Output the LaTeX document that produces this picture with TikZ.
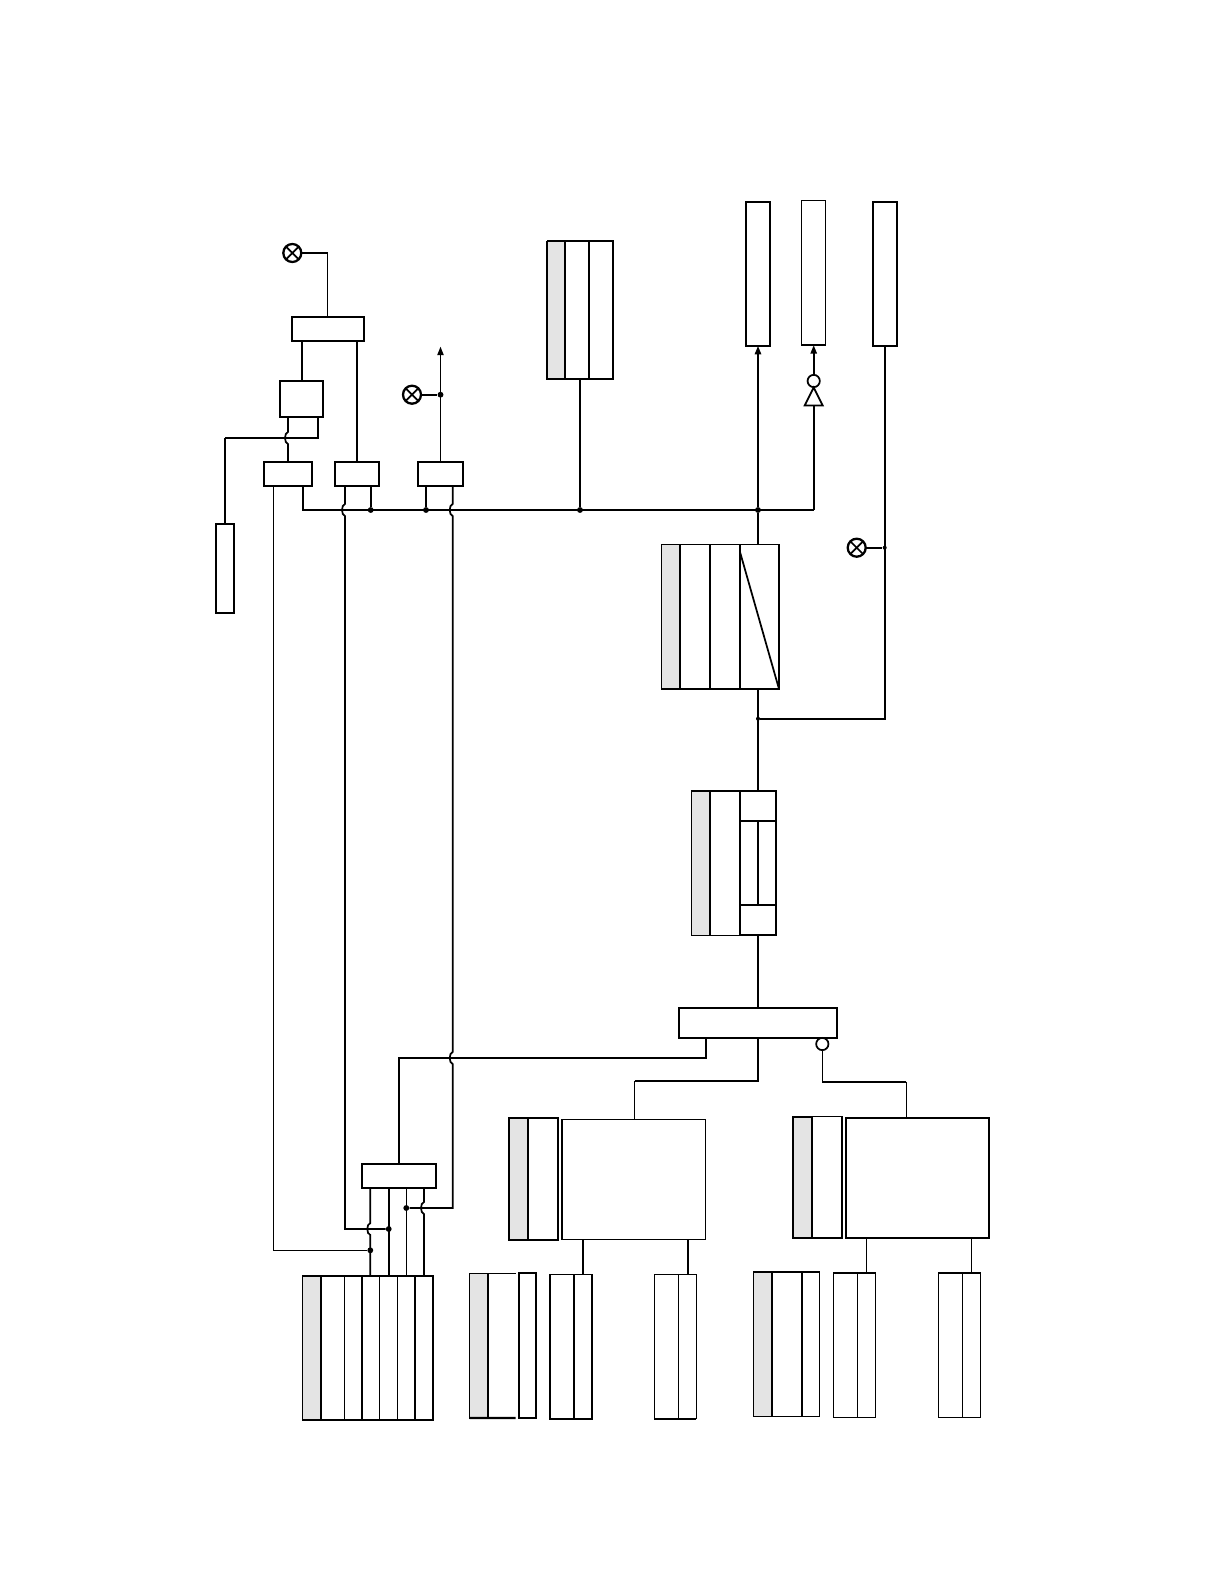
\documentclass[tikz,border=0pt]{standalone}
\usetikzlibrary{arrows.meta}
\definecolor{cellgray}{HTML}{E4E4E4}
\tikzset{
  wthin/.style={line width=0.9pt},
  wmid/.style={line width=1.3pt},
  wthick/.style={line width=1.7pt},
  cellbox/.style={draw=black,fill=white,rectangle,inner sep=0pt,outer sep=0pt},
  graybox/.style={cellbox,fill=cellgray},
  junction/.style={circle,fill=black,inner sep=0pt,minimum size=4.4pt},
  smalljunction/.style={circle,fill=black,inner sep=0pt,minimum size=3pt},
  lamp/.style={circle,draw=black,fill=white,wthick,inner sep=0pt,outer sep=0pt,minimum size=13.5pt,
    path picture={\draw[wmid] (path picture bounding box.north west)--(path picture bounding box.south east)
      (path picture bounding box.north east)--(path picture bounding box.south west);}},
  bubble/.style={circle,draw=black,fill=white,wmid,inner sep=0pt,outer sep=0pt,minimum size=9.2pt},
  buffer/.style={draw=black,fill=white,wmid},
  arrowed/.style={-{Triangle[length=6.5pt,width=4.6pt]}},
}
% \cellat{name}{x0}{y0}{x1}{y1}{style}
\newcommand{\cellat}[6]{\node[#6,minimum width={(#4-#2)*0.75pt},minimum height={(#5-#3)*0.75pt}] (#1) at ({(#2+#4)/2},{(#3+#5)/2}) {};}
\begin{document}
\begin{tikzpicture}[x=0.75pt,y=-0.75pt]
\useasboundingbox (0,0) rectangle (1224,1584);

% ---------- upper left group
\cellat{boxA}{291.7}{316.7}{364}{340.7}{cellbox,wthick}
\cellat{boxB}{280}{380.7}{323.3}{417}{cellbox,wthick}
\cellat{boxC}{264.3}{461.7}{312.3}{486}{cellbox,wmid}
\cellat{boxD}{335}{461.7}{379.3}{486}{cellbox,wthick}
\cellat{boxE}{418}{461.7}{463}{486}{cellbox,wthick}
\cellat{boxY}{215.7}{523.7}{234}{613.3}{cellbox,wthick}
\node[lamp] (lampA) at (292.3,253) {};
\node[lamp] (lampB) at (412,394.7) {};
\node[junction] (dotB) at (440.5,394.7) {};
\coordinate (arrowtop) at (440.5,346.5);
\draw[wmid] (lampA.east) -- (327.5,253);
\draw[wthin] (327.5,253) -- (boxA.north -| 327.5,0);
\draw[wthick] (boxA.south -| 301.7,0) -- (boxB.north -| 301.7,0);
\draw[wthick] (boxA.south -| 356.7,0) -- (boxD.north -| 356.7,0);
\draw[wmid] (boxB.south -| 288,0) -- (288,432) .. controls (284,433) and (284,443) .. (288,444) -- (boxC.north -| 288,0);
\draw[wthick] (boxB.south -| 318,0) -- (318,438) -- (225.3,438);
\draw[wmid] (225.3,438) -- (boxY.north -| 225.3,0);
\draw[wmid,arrowed] (boxE.north -| 440.5,0) -- (arrowtop);
\draw[wthick] (lampB.east) -- (dotB);

% ---------- bus
\coordinate (busleft) at (302.7,510);
\coordinate (busright) at (813.7,510);
\node[junction] (dotD) at (370.7,510) {};
\node[junction] (dotE) at (426,510) {};
\node[junction] (dotX) at (580,510) {};
\node[junction] (dotS) at (758,510) {};
\draw[wthick] (boxC.south -| 302.7,0) -- (busleft) -- (busright);
\draw[wthick] (boxD.south -| 370.7,0) -- (dotD);
\draw[wthick] (boxE.south -| 426,0) -- (dotE);

% ---------- strip X
\cellat{xa}{547.3}{240.7}{565.3}{378.7}{graybox,wthin}
\cellat{xb}{565.3}{240.7}{589.3}{378.7}{cellbox,wmid}
\cellat{xc}{589.3}{240.7}{612.7}{378.7}{cellbox,wmid}
\draw[wthick] (xa.north west) -- (xc.north east) -- (xc.south east) -- (xb.south west);
\draw[wmid] (xa.north west) -- (xa.south west) -- (xa.south east) -- (xa.north east);
\draw[wmid] (xb.south -| 580,0) -- (dotX);

% ---------- top right boxes
\cellat{boxS}{745.7}{201.7}{770.3}{345.7}{cellbox,wthick}
\cellat{boxT}{801.3}{200.3}{825.7}{345}{cellbox,wthin}
\draw[wthick] (boxT.south west) -- (boxT.south east);
\cellat{boxU}{873}{201.7}{897.3}{345.7}{cellbox,wthick}
\draw[wthick,arrowed] (dotS) -- (boxS.south -| 758,0);
\coordinate (tribase) at (813.7,405.5);
\node[bubble] (bubT) at (813.7,381) {};
\draw[buffer,line join=miter] (804.7,405.5) -- (813.7,387.5) -- (822.7,405.5) -- cycle;
\draw[wthick] (busright) -- (tribase);
\draw[wthick,arrowed] (bubT.north) -- (boxT.south -| 813.7,0);

% ---------- strip V
\cellat{va}{661.7}{544.3}{680}{689}{graybox,wthin}
\cellat{vb}{680}{544.3}{710}{689}{cellbox,wthin}
\cellat{vc}{710}{544.3}{740}{689}{cellbox,wthin}
\cellat{vd}{740}{544.3}{779}{689}{cellbox,wthin}
\draw[wthick] (vb.north west) -- (vb.south west) (vb.north east) -- (vb.south east) (vc.north east) -- (vc.south east);
\draw[wthick] (va.south west) -- (vd.south east);
\draw[wmid] (vd.north east) -- (vd.south east);
\draw[wmid] (740,552) -- (vd.south east);
\draw[wthick] (dotS) -- (vd.north -| 758,0);

% ---------- strip W
\cellat{wa}{691.3}{790.7}{710}{935.3}{graybox,wthin}
\cellat{wb}{710}{790.7}{739}{935.3}{cellbox,wthin}
\draw[draw=white,wmid] (wb.north east) -- (wb.south east);
\cellat{wc}{740}{790.7}{776}{820.7}{cellbox,wmid}
\cellat{wd}{740}{820.7}{776}{905.3}{cellbox,wmid}
\cellat{we}{740}{905.3}{776}{935.3}{cellbox,wmid}
\draw[wthick] (wa.north west) -- (wb.north east) (wb.north west) -- (wb.south west);
\draw[wthick] (wc.north west) -- (wc.north east) (wc.south west) -- (wc.south east);
\draw[wthin] (we.north west) -- (we.north east);
\draw[wmid] (wd.north) -- (wd.south);

% ---------- V to W, feedback to U
\node[smalljunction] (dotV) at (758,718.7) {};
\node[smalljunction] (dotU) at (884.7,547.7) {};
\node[lamp] (lampC) at (856.7,547.7) {};
\draw[wthick] (vd.south -| 758,0) -- (wc.north);
\draw[wthick] (boxU.south -| 884.7,0) -- (884.7,718.7) -- (dotV);
\draw[wthick] (lampC.east) -- (dotU);

% ---------- box M and below
\cellat{boxM}{679}{1007.7}{837.3}{1038}{cellbox,wthick}
\draw[wthick] (we.south) -- (boxM.north -| 758,0);
\node[bubble] (bubM) at (822.3,1044) {};
\cellat{boxK}{562}{1119.3}{705.3}{1239.3}{cellbox,wthin}
\draw[wthick] (boxK.north west) -- (boxK.south west);
\cellat{boxN}{845.7}{1117.7}{989.3}{1238}{cellbox,wmid}
\draw[wthick] (boxN.north west) -- (boxN.north east) (boxN.south west) -- (boxN.south east);
\draw[wthick] (boxM.south -| 758,0) -- (758,1080.7) -- (634.7,1080.7);
\draw[wthin] (634.7,1080.7) -- (boxK.north -| 634.7,0);
\draw[wthin] (bubM.south) -- (822.3,1081.7);
\draw[wthick] (822.3,1081.7) -- (906.3,1081.7);
\draw[wthin] (906.3,1081.7) -- (boxN.north -| 906.3,0);

% ---------- strip L
\cellat{la}{509}{1118}{527.7}{1239.7}{graybox,wthick}
\cellat{lb}{527.7}{1118}{558}{1239.7}{cellbox,wthick}
% ---------- strip O
\cellat{oa}{793}{1116.7}{812}{1238.3}{graybox,wmid}
\cellat{ob}{812}{1116.7}{842}{1238.3}{cellbox,wthin}
\draw[line width=2pt] (ob.north west) -- (ob.south west);
\draw[wmid] (ob.north east) -- (ob.south east) (oa.south west) -- (ob.south east);

% ---------- box F and its wires
\cellat{boxF}{361.7}{1164.3}{436}{1188.3}{cellbox,wmid}
\cellat{ga}{302.7}{1275.7}{320.7}{1420}{graybox,wthin}
\cellat{gb}{320.7}{1275.7}{344.3}{1420}{cellbox,wthin}
\cellat{gc}{344.3}{1275.7}{362}{1420}{cellbox,wthin}
\cellat{gd}{362}{1275.7}{379.3}{1420}{cellbox,wthin}
\cellat{ge}{379.3}{1275.7}{397.3}{1420}{cellbox,wthin}
\cellat{gf}{397.3}{1275.7}{415}{1420}{cellbox,wthin}
\cellat{gg}{415}{1275.7}{433.3}{1420}{cellbox,wthin}
\draw[wthick] (ga.north west) -- (gg.north east);
\draw[wthick] (gb.north west) -- (gb.south west) (gd.north west) -- (gd.south west) (gg.north west) -- (gg.south west);
\draw[wmid] (gg.north east) -- (gg.south east);

\node[junction] (dotG1) at (370.3,1250.3) {};
\node[junction] (dotG2) at (388.7,1229) {};
\node[junction] (dotG3) at (406.3,1208) {};
\draw[wmid] (boxF.south -| 370.3,0) -- (370.3,1223) .. controls (366.3,1224) and (366.3,1234) .. (370.3,1235) -- (gd.north -| 370.3,0);
\draw[wthick] (boxF.south -| 388.7,0) -- (ge.north -| 388.7,0);
\draw[wthin] (boxF.south -| 406.3,0) -- (gf.north -| 406.3,0);
\draw[wmid] (boxF.south -| 424,0) -- (424,1202) .. controls (420,1203) and (420,1213) .. (424,1214) -- (gg.north -| 424,0);
\draw[wthick] (boxF.north -| 399,0) -- (399,1057.7) -- (706,1057.7) -- (boxM.south -| 706,0);

% long wires
\draw[wmid] (boxD.south -| 345,0) -- (345,504) .. controls (341,505) and (341,515) .. (345,516) -- (345,1229) -- (dotG2);
\draw[wmid] (boxE.south -| 452.7,0) -- (452.7,504) .. controls (448.7,505) and (448.7,515) .. (452.7,516)
  -- (452.7,1052) .. controls (448.7,1053) and (448.7,1063) .. (452.7,1064) -- (452.7,1208) -- (dotG3);
\draw[wthin] (boxC.south -| 273.3,0) -- (273.3,1250.3) -- (dotG1);

% ---------- strip H
\cellat{ha}{469.7}{1273.3}{488}{1418}{graybox,wthin}
\coordinate (hw1) at (515.7,1273.3);
\coordinate (hw2) at (515.7,1418);
\draw[wthin] (ha.north east) -- (hw1);
\draw[wthick] (ha.south west) -- (hw2);
\draw[wthick] (ha.north east) -- (ha.south east);
\cellat{hb}{518.7}{1273.3}{536}{1418}{cellbox,wthick}

% ---------- strip I
\cellat{ia}{550}{1274.3}{574}{1418.7}{cellbox,wthin}
\cellat{ib}{574}{1274.3}{592.3}{1418.7}{cellbox,wthin}
\draw[wthick] (ia.north west) -- (ia.south west) -- (ib.south east) -- (ib.north east) (ib.north west) -- (ib.south west);
\draw[wthick] (boxK.south -| 583,0) -- (ib.north -| 583,0);
% ---------- strip J
\cellat{ja}{654.3}{1274.3}{678.3}{1418.7}{cellbox,wthin}
\cellat{jb}{678.3}{1274.3}{696.3}{1418.7}{cellbox,wthin}
\draw[wthick] (ja.south west) -- (jb.south east);
\draw[wthick] (boxK.south -| 688,0) -- (jb.north -| 688,0);

% ---------- strip P
\cellat{pa}{753.3}{1272}{772}{1416.3}{graybox,wthin}
\cellat{pb}{772}{1272}{802}{1416.3}{cellbox,wthin}
\cellat{pc}{802}{1272}{819.3}{1416.3}{cellbox,wthin}
\draw[wthick] (pa.north west) -- (pb.north east);
\draw[wthick] (pb.north west) -- (pb.south west) (pb.north east) -- (pb.south east);
% ---------- strip Q
\cellat{qa}{833.7}{1272.7}{857.3}{1417.3}{cellbox,wthin}
\cellat{qb}{857.3}{1272.7}{875.3}{1417.3}{cellbox,wthin}
\draw[wthick] (qa.north west) -- (qb.north east);
\draw[wthin] (boxN.south -| 866.3,0) -- (qb.north -| 866.3,0);
% ---------- strip R
\cellat{ra}{938.7}{1272.7}{962.3}{1417.3}{cellbox,wthin}
\cellat{rb}{962.3}{1272.7}{980.3}{1417.3}{cellbox,wthin}
\draw[wthick] (ra.north west) -- (rb.north east);
\draw[wthin] (boxN.south -| 971.3,0) -- (rb.north -| 971.3,0);
\end{tikzpicture}
\end{document}
